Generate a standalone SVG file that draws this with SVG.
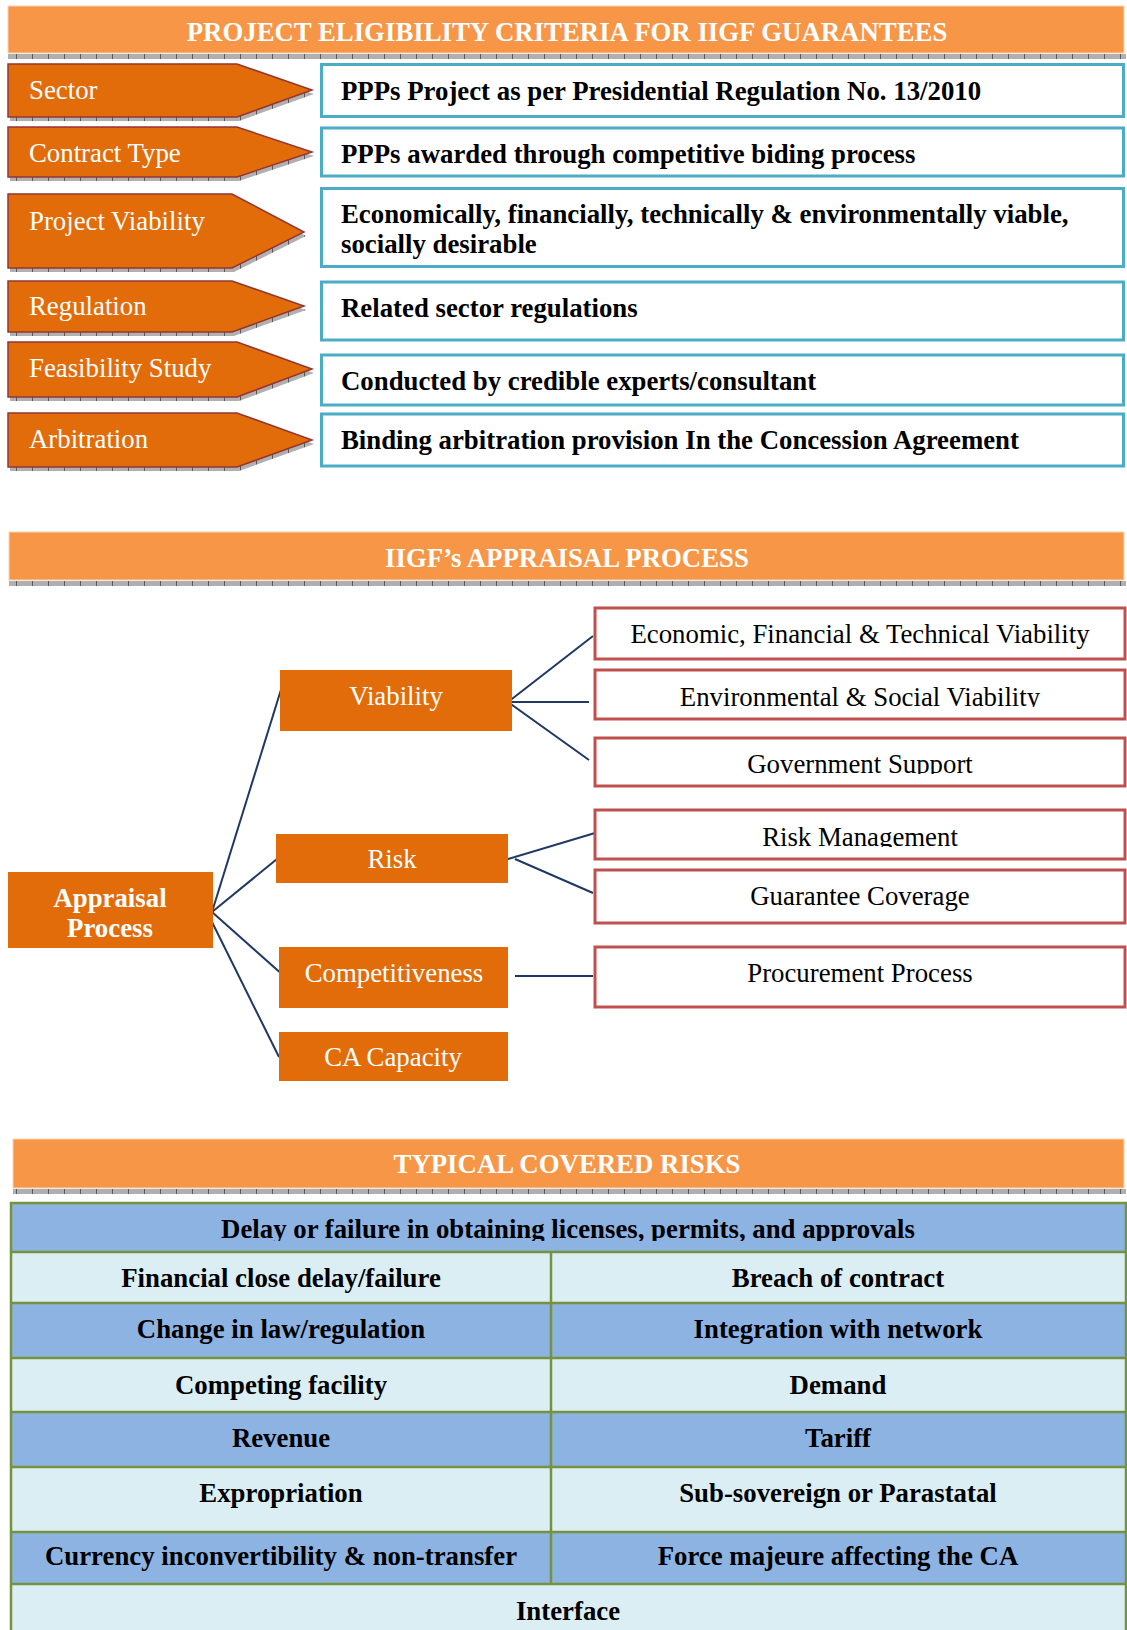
<svg xmlns="http://www.w3.org/2000/svg" width="1127" height="1630" viewBox="0 0 1127 1630">
<defs>
<pattern id="ruler" x="0" y="0" width="16" height="6" patternUnits="userSpaceOnUse">
<rect width="16" height="6" fill="#B0B0B0"/>
<rect x="0" width="1" height="6" fill="#5A5A5A"/>
</pattern>
<clipPath id="clipB"><rect x="595" y="670" width="530" height="37"/></clipPath>
<clipPath id="clipC"><rect x="595" y="738" width="530" height="36"/></clipPath>
<clipPath id="clipD"><rect x="595" y="810" width="530" height="37"/></clipPath>
<clipPath id="clipR1"><rect x="11" y="1203" width="1115" height="38"/></clipPath>
<style>
text{font-family:"Liberation Serif","Times New Roman",serif;font-size:26.8px}
.banner{fill:#F79646;stroke:#FBD4B4;stroke-width:1}
.ruler{fill:url(#ruler)}
.btitle{fill:#fff;font-weight:bold;text-anchor:middle}
.chev{fill:#E36C0A;stroke:#943634;stroke-width:1.5}
.chevsh{fill:url(#ruler)}
.chevtxt{fill:#fff}
.crit{fill:#fff;stroke:#4BACC6;stroke-width:3}
.crittxt{fill:#000;font-weight:bold}
.onode{fill:#E36C0A}
.otxt{fill:#fff;text-anchor:middle}
.rbox{fill:#fff;stroke:#C0504D;stroke-width:3}
.rtxt{fill:#000;text-anchor:middle}
.conn line{stroke:#1F3864;stroke-width:2;fill:none}
.tblue{fill:#8DB3E2}
.tlight{fill:#DBEEF3}
.grid{stroke:#76923C;stroke-width:2.5;fill:none}
.ttxt{fill:#000;font-weight:bold;text-anchor:middle}
</style>
</defs>
<rect width="1127" height="1630" fill="#fff"/>

<!-- Section 1 -->
<g id="banner1">
<rect class="banner" x="8" y="6" width="1116" height="47"/>
<rect class="ruler" x="8" y="54" width="1118" height="5"/>
<text class="btitle" x="567" y="41">PROJECT ELIGIBILITY CRITERIA FOR IIGF GUARANTEES</text>
</g>

<g id="chev-sector">
<polygon class="chevsh" points="10,68 239,68 314,94 239,121 10,121"/>
<polygon class="chev" points="8,64 237,64 312,90 237,117 8,117"/>
<text class="chevtxt" x="29" y="99">Sector</text>
</g>
<g id="chev-contract">
<polygon class="chevsh" points="10,131 239,131 314,156 239,181 10,181"/>
<polygon class="chev" points="8,127 237,127 312,152 237,177 8,177"/>
<text class="chevtxt" x="29" y="162">Contract Type</text>
</g>
<g id="chev-viability">
<polygon class="chevsh" points="10,198 234,198 306,236 234,272 10,272"/>
<polygon class="chev" points="8,194 232,194 304,232 232,268 8,268"/>
<text class="chevtxt" x="29" y="230">Project Viability</text>
</g>
<g id="chev-regulation">
<polygon class="chevsh" points="10,285 234,285 306,310 234,336 10,336"/>
<polygon class="chev" points="8,281 232,281 304,306 232,332 8,332"/>
<text class="chevtxt" x="29" y="315">Regulation</text>
</g>
<g id="chev-feasibility">
<polygon class="chevsh" points="10,346 239,346 314,373 239,401 10,401"/>
<polygon class="chev" points="8,342 237,342 312,369 237,397 8,397"/>
<text class="chevtxt" x="29" y="377">Feasibility Study</text>
</g>
<g id="chev-arbitration">
<polygon class="chevsh" points="10,417 239,417 314,444 239,471 10,471"/>
<polygon class="chev" points="8,413 237,413 312,440 237,467 8,467"/>
<text class="chevtxt" x="29" y="448">Arbitration</text>
</g>

<g id="crit-sector">
<rect class="crit" x="321.5" y="64.5" width="802" height="52"/>
<text class="crittxt" x="341" y="100">PPPs Project as per Presidential Regulation No. 13/2010</text>
</g>
<g id="crit-contract">
<rect class="crit" x="321.5" y="128" width="802" height="48"/>
<text class="crittxt" x="341" y="163">PPPs awarded through competitive biding process</text>
</g>
<g id="crit-viability">
<rect class="crit" x="321.5" y="188.5" width="802" height="78"/>
<text class="crittxt" x="341" y="223">Economically, financially, technically &amp; environmentally viable,</text>
<text class="crittxt" x="341" y="253">socially desirable</text>
</g>
<g id="crit-regulation">
<rect class="crit" x="321.5" y="282" width="802" height="58"/>
<text class="crittxt" x="341" y="317">Related sector regulations</text>
</g>
<g id="crit-feasibility">
<rect class="crit" x="321.5" y="355" width="802" height="50"/>
<text class="crittxt" x="341" y="390">Conducted by credible experts/consultant</text>
</g>
<g id="crit-arbitration">
<rect class="crit" x="321.5" y="414" width="802" height="52"/>
<text class="crittxt" x="341" y="449">Binding arbitration provision In the Concession Agreement</text>
</g>

<!-- Section 2 -->
<g id="banner2">
<rect class="banner" x="9" y="532" width="1115" height="48"/>
<rect class="ruler" x="9" y="581" width="1117" height="5"/>
<text class="btitle" x="567" y="567">IIGF’s APPRAISAL PROCESS</text>
</g>

<g class="conn" id="connectors">
<line x1="212" y1="912" x2="284" y2="680"/>
<line x1="212" y1="912" x2="277" y2="859"/>
<line x1="212" y1="912" x2="284" y2="976"/>
<line x1="212" y1="922" x2="279" y2="1057"/>
<line x1="508" y1="702" x2="593" y2="636"/>
<line x1="508" y1="702" x2="589" y2="702"/>
<line x1="508" y1="702" x2="589" y2="760"/>
<line x1="508" y1="859" x2="595" y2="833"/>
<line x1="515" y1="859" x2="593" y2="893"/>
<line x1="515" y1="976" x2="593" y2="976"/>
</g>

<g id="node-appraisal">
<rect class="onode" x="8" y="872" width="205" height="76"/>
<text class="otxt" x="110" y="907" font-weight="bold">Appraisal</text>
<text class="otxt" x="110" y="937" font-weight="bold">Process</text>
</g>
<g id="node-viability">
<rect class="onode" x="280" y="670" width="232" height="61"/>
<text class="otxt" x="396" y="705">Viability</text>
</g>
<g id="node-risk">
<rect class="onode" x="276" y="834" width="232" height="49"/>
<text class="otxt" x="392" y="868">Risk</text>
</g>
<g id="node-competitiveness">
<rect class="onode" x="279" y="947" width="229" height="61"/>
<text class="otxt" x="394" y="982">Competitiveness</text>
</g>
<g id="node-ca">
<rect class="onode" x="279" y="1032" width="229" height="49"/>
<text class="otxt" x="393" y="1066">CA Capacity</text>
</g>

<g id="box-eft">
<rect class="rbox" x="595" y="608" width="530" height="51"/>
<text class="rtxt" x="860" y="643">Economic, Financial &amp; Technical Viability</text>
</g>
<g id="box-es">
<rect class="rbox" x="595" y="670" width="530" height="49"/>
<text class="rtxt" x="860" y="706" clip-path="url(#clipB)">Environmental &amp; Social Viability</text>
</g>
<g id="box-gov">
<rect class="rbox" x="595" y="738" width="530" height="48"/>
<text class="rtxt" x="860" y="773" clip-path="url(#clipC)">Government Support</text>
</g>
<g id="box-rm">
<rect class="rbox" x="595" y="810" width="530" height="49"/>
<text class="rtxt" x="860" y="846" clip-path="url(#clipD)">Risk Management</text>
</g>
<g id="box-gc">
<rect class="rbox" x="595" y="870" width="530" height="53"/>
<text class="rtxt" x="860" y="905">Guarantee Coverage</text>
</g>
<g id="box-pp">
<rect class="rbox" x="595" y="947" width="530" height="60"/>
<text class="rtxt" x="860" y="982">Procurement Process</text>
</g>

<!-- Section 3 -->
<g id="banner3">
<rect class="banner" x="13" y="1139" width="1111" height="49"/>
<rect class="ruler" x="13" y="1189" width="1113" height="5"/>
<text class="btitle" x="567" y="1173">TYPICAL COVERED RISKS</text>
</g>

<g id="risk-table">
<rect class="tblue" x="11" y="1203" width="1115" height="49"/>
<rect class="tlight" x="11" y="1252" width="1115" height="51"/>
<rect class="tblue" x="11" y="1303" width="1115" height="55"/>
<rect class="tlight" x="11" y="1358" width="1115" height="54"/>
<rect class="tblue" x="11" y="1412" width="1115" height="55"/>
<rect class="tlight" x="11" y="1467" width="1115" height="65"/>
<rect class="tblue" x="11" y="1532" width="1115" height="52"/>
<rect class="tlight" x="11" y="1584" width="1115" height="50"/>
<path class="grid" d="M11,1634 V1203 H1126 V1634 M11,1252 H1126 M11,1303 H1126 M11,1358 H1126 M11,1412 H1126 M11,1467 H1126 M11,1532 H1126 M11,1584 H1126 M551,1252 V1584"/>
<text class="ttxt" x="568" y="1238" clip-path="url(#clipR1)">Delay or failure in obtaining licenses, permits, and approvals</text>
<text class="ttxt" x="281" y="1287">Financial close delay/failure</text>
<text class="ttxt" x="838" y="1287">Breach of contract</text>
<text class="ttxt" x="281" y="1338">Change in law/regulation</text>
<text class="ttxt" x="838" y="1338">Integration with network</text>
<text class="ttxt" x="281" y="1394">Competing facility</text>
<text class="ttxt" x="838" y="1394">Demand</text>
<text class="ttxt" x="281" y="1447">Revenue</text>
<text class="ttxt" x="838" y="1447">Tariff</text>
<text class="ttxt" x="281" y="1502">Expropriation</text>
<text class="ttxt" x="838" y="1502">Sub-sovereign or Parastatal</text>
<text class="ttxt" x="281" y="1565">Currency inconvertibility &amp; non-transfer</text>
<text class="ttxt" x="838" y="1565">Force majeure affecting the CA</text>
<text class="ttxt" x="568" y="1620">Interface</text>
</g>
</svg>
